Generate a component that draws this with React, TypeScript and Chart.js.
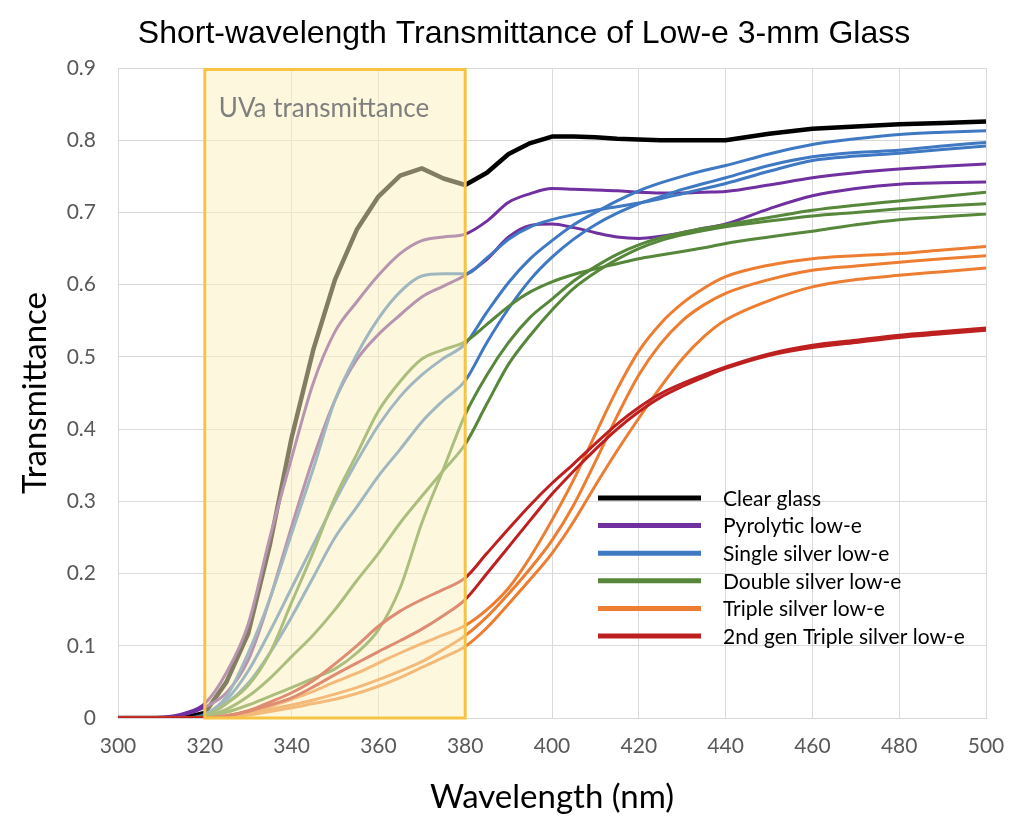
import React, { useEffect, useRef } from "react";
import { Chart, registerables } from "chart.js";

Chart.register(...registerables);

// ---------------- data ----------------
const wavelengths = [300, 305, 310, 315, 320, 325, 330, 335, 340, 345, 350, 355, 360, 365, 370, 375, 380, 385, 390, 395, 400, 405, 410, 415, 420, 425, 430, 435, 440, 450, 460, 470, 480, 490, 500];

const clearGlass = [0, 0, 0, 0, 0.007, 0.05, 0.117, 0.24, 0.388, 0.51, 0.607, 0.676, 0.722, 0.751, 0.761, 0.747, 0.738, 0.755, 0.781, 0.796, 0.805, 0.805, 0.804, 0.802, 0.801, 0.8, 0.8, 0.8, 0.8, 0.809, 0.816, 0.819, 0.822, 0.824, 0.826];

const pyrolyticA = [0, 0, 0.001, 0.006, 0.02, 0.063, 0.13, 0.25, 0.36, 0.464, 0.535, 0.576, 0.613, 0.643, 0.661, 0.666, 0.67, 0.688, 0.714, 0.726, 0.733, 0.732, 0.731, 0.73, 0.728, 0.727, 0.727, 0.728, 0.729, 0.738, 0.748, 0.755, 0.76, 0.764, 0.767];
const pyrolyticB = [0, 0, 0.001, 0.004, 0.015, 0.035, 0.08, 0.165, 0.265, 0.36, 0.44, 0.496, 0.531, 0.558, 0.583, 0.598, 0.613, 0.635, 0.666, 0.682, 0.684, 0.679, 0.672, 0.666, 0.664, 0.667, 0.672, 0.678, 0.684, 0.705, 0.723, 0.733, 0.739, 0.741, 0.742];

const singleA = [0, 0, 0, 0, 0.005, 0.03, 0.09, 0.165, 0.255, 0.345, 0.44, 0.503, 0.553, 0.59, 0.612, 0.615, 0.615, 0.637, 0.663, 0.68, 0.69, 0.697, 0.703, 0.708, 0.713, 0.719, 0.726, 0.733, 0.74, 0.757, 0.772, 0.778, 0.782, 0.787, 0.792];
const singleB = [0, 0, 0, 0, 0.003, 0.025, 0.065, 0.12, 0.18, 0.24, 0.3, 0.355, 0.405, 0.445, 0.475, 0.498, 0.518, 0.562, 0.603, 0.636, 0.661, 0.683, 0.7, 0.716, 0.73, 0.741, 0.75, 0.758, 0.765, 0.781, 0.794, 0.802, 0.808, 0.811, 0.813];
const singleC = [0, 0, 0, 0, 0.003, 0.02, 0.048, 0.09, 0.14, 0.195, 0.25, 0.292, 0.335, 0.372, 0.41, 0.44, 0.467, 0.52, 0.567, 0.607, 0.638, 0.663, 0.683, 0.699, 0.712, 0.722, 0.732, 0.74, 0.748, 0.765, 0.777, 0.783, 0.786, 0.792, 0.797];

const doubleA = [0, 0, 0, 0, 0.003, 0.02, 0.045, 0.09, 0.16, 0.23, 0.305, 0.365, 0.425, 0.466, 0.497, 0.51, 0.521, 0.545, 0.57, 0.59, 0.604, 0.614, 0.622, 0.629, 0.636, 0.641, 0.646, 0.651, 0.657, 0.666, 0.674, 0.683, 0.69, 0.694, 0.698];
const doubleB = [0, 0, 0, 0, 0.002, 0.012, 0.03, 0.055, 0.085, 0.115, 0.15, 0.19, 0.228, 0.27, 0.307, 0.343, 0.379, 0.435, 0.49, 0.53, 0.565, 0.595, 0.617, 0.635, 0.65, 0.661, 0.669, 0.675, 0.68, 0.688, 0.695, 0.7, 0.705, 0.709, 0.712];
const doubleC = [0, 0, 0, 0, 0.001, 0.008, 0.018, 0.03, 0.042, 0.055, 0.068, 0.09, 0.122, 0.18, 0.27, 0.345, 0.42, 0.475, 0.52, 0.555, 0.58, 0.605, 0.625, 0.642, 0.655, 0.665, 0.672, 0.678, 0.683, 0.693, 0.703, 0.71, 0.716, 0.722, 0.728];

const tripleA = [0, 0, 0, 0, 0, 0.002, 0.008, 0.016, 0.026, 0.037, 0.05, 0.062, 0.076, 0.09, 0.103, 0.115, 0.128, 0.15, 0.18, 0.223, 0.274, 0.33, 0.393, 0.455, 0.508, 0.546, 0.574, 0.595, 0.611, 0.627, 0.636, 0.64, 0.643, 0.648, 0.653];
const tripleB = [0, 0, 0, 0, 0, 0.001, 0.006, 0.012, 0.018, 0.025, 0.033, 0.042, 0.053, 0.065, 0.078, 0.095, 0.114, 0.14, 0.172, 0.207, 0.246, 0.295, 0.355, 0.418, 0.475, 0.518, 0.55, 0.572, 0.588, 0.607, 0.62, 0.626, 0.631, 0.636, 0.64];
const tripleC = [0, 0, 0, 0, 0, 0.001, 0.004, 0.009, 0.014, 0.02, 0.026, 0.034, 0.044, 0.056, 0.07, 0.084, 0.099, 0.125, 0.158, 0.192, 0.228, 0.272, 0.322, 0.37, 0.415, 0.458, 0.497, 0.528, 0.551, 0.578, 0.597, 0.607, 0.613, 0.618, 0.623];

const gen2A = [0, 0, 0, 0, 0, 0.003, 0.01, 0.022, 0.035, 0.052, 0.075, 0.1, 0.127, 0.148, 0.164, 0.178, 0.194, 0.228, 0.262, 0.295, 0.325, 0.352, 0.38, 0.407, 0.43, 0.449, 0.463, 0.475, 0.486, 0.504, 0.516, 0.523, 0.53, 0.535, 0.54];
const gen2B = [0, 0, 0, 0, 0, 0.003, 0.009, 0.018, 0.028, 0.043, 0.06, 0.076, 0.092, 0.107, 0.123, 0.142, 0.164, 0.2, 0.237, 0.274, 0.31, 0.342, 0.372, 0.4, 0.424, 0.444, 0.459, 0.472, 0.484, 0.502, 0.513, 0.52, 0.527, 0.532, 0.537];

const legendLabels = ["Clear glass", "Pyrolytic low-e", "Single silver low-e", "Double silver low-e", "Triple silver low-e", "2nd gen Triple silver low-e"];
const groupSeries = [
  [clearGlass],
  [pyrolyticA, pyrolyticB],
  [singleA, singleB, singleC],
  [doubleA, doubleB, doubleC],
  [tripleA, tripleB, tripleC],
  [gen2A, gen2B],
];
const groupColors = ["#000000", "#7030A0", "#3F78C3", "#56873A", "#ED7D31", "#BE2020"];

const xTicks = [300, 320, 340, 360, 380, 400, 420, 440, 460, 480, 500];
const yTickLabels = ["0", "0.1", "0.2", "0.3", "0.4", "0.5", "0.6", "0.7", "0.8", "0.9"];
const uvBand = [320, 380];
const uvLabel = "UVa transmittance";
const chartTitle = "Short-wavelength Transmittance of Low-e 3-mm Glass";
const xTitle = "Wavelength (nm)";
const yTitle = "Transmittance";

// ---------------- plugin ----------------
const decorPlugin = {
  id: "decor",
  afterDatasetsDraw(chart: any) {
    const { ctx, chartArea, scales } = chart;
    const xs = scales.x;
    const ys = scales.y;
    const x0 = xs.getPixelForValue(uvBand[0]);
    const x1 = xs.getPixelForValue(uvBand[1]);
    const yTop = ys.getPixelForValue(0.9);
    const yBot = ys.getPixelForValue(0);
    ctx.save();
    // translucent UVa band
    ctx.fillStyle = "rgba(251,241,190,0.52)";
    ctx.fillRect(x0, yTop, x1 - x0, yBot - yTop);
    ctx.strokeStyle = "#F6C343";
    ctx.lineWidth = 3;
    ctx.strokeRect(x0, yTop + 1.5, x1 - x0, yBot - yTop - 1.5);
    ctx.fillStyle = "#7F7F7F";
    ctx.font = "26px Lato";
    ctx.textAlign = "left";
    ctx.textBaseline = "alphabetic";
    ctx.fillText(uvLabel, x0 + 14, yTop + 49);

    // legend
    const lx0 = chartArea.left + 480;
    const lx1 = chartArea.left + 583;
    const tx = chartArea.left + 605;
    const ly0 = chartArea.top + 430;
    const step = 27.6;
    ctx.font = "21px Lato";
    ctx.textBaseline = "middle";
    legendLabels.forEach((lab, i) => {
      const yy = ly0 + i * step;
      ctx.strokeStyle = groupColors[i];
      ctx.lineWidth = 5;
      ctx.lineCap = "butt";
      ctx.beginPath();
      ctx.moveTo(lx0, yy);
      ctx.lineTo(lx1, yy);
      ctx.stroke();
      ctx.fillStyle = "#000000";
      ctx.fillText(lab, tx, yy + 1);
    });
    ctx.restore();
  },
  afterDraw(chart: any) {
    const { ctx } = chart;
    ctx.save();
    ctx.fillStyle = "#000000";
    ctx.font = '32px "Liberation Sans", Arial, sans-serif';
    ctx.textAlign = "center";
    ctx.textBaseline = "middle";
    ctx.fillText(chartTitle, 524, 34);
    ctx.restore();
  },
};

export default function App() {
  const canvasRef = useRef<HTMLCanvasElement | null>(null);

  useEffect(() => {
    const canvas = canvasRef.current;
    if (!canvas) return;
    const datasets: any[] = [];
    let count = 0;
    const total = groupSeries.reduce((s, g) => s + g.length, 0);
    groupSeries.forEach((group, gi) => {
      group.forEach((arr, li) => {
        datasets.push({
          label: legendLabels[gi] + " " + (li + 1),
          data: wavelengths.map((w, i) => ({ x: w, y: arr[i] })),
          borderColor: groupColors[gi],
          backgroundColor: groupColors[gi],
          borderWidth: gi === 0 ? 4.5 : 3,
          pointRadius: 0,
          fill: false,
          tension: 0,
          cubicInterpolationMode: gi === 0 ? "default" : "monotone",
          borderJoinStyle: "round",
          order: total - count,
        });
        count++;
      });
    });

    const chart = new Chart(canvas, {
      type: "line",
      data: { datasets },
      options: {
        responsive: false,
        animation: false,
        layout: { padding: { top: 68, right: 38, left: 0, bottom: 0 } },
        plugins: {
          legend: { display: false },
          title: { display: false },
          tooltip: { enabled: false },
        },
        font: { family: "Lato" },
        scales: {
          x: {
            type: "linear",
            min: 300,
            max: 500,
            afterBuildTicks: (scale: any) => {
              scale.ticks = xTicks.map((v) => ({ value: v }));
            },
            afterFit: (scale: any) => {
              scale.height = 110;
            },
            ticks: {
              color: "#595959",
              font: { family: "Lato", size: 21 },
              padding: 16,
              maxRotation: 0,
            },
            grid: { color: "#D9D9D9", lineWidth: 1, drawTicks: false },
            border: { color: "#D9D9D9", width: 1 },
            title: {
              display: true,
              text: xTitle,
              color: "#000000",
              font: { family: "Lato", size: 33 },
              padding: { top: 0, bottom: 11 },
            },
          },
          y: {
            type: "linear",
            min: 0,
            max: 0.9,
            ticks: {
              stepSize: 0.1,
              color: "#595959",
              font: { family: "Lato", size: 21 },
              padding: 22,
              callback: (_v: any, i: number) => yTickLabels[i],
            },
            afterFit: (scale: any) => {
              scale.width = 118;
            },
            grid: { color: "#D9D9D9", lineWidth: 1, drawTicks: false },
            border: { color: "#D9D9D9", width: 1 },
            title: {
              display: true,
              text: yTitle,
              color: "#000000",
              font: { family: "Lato", size: 33 },
              padding: { top: 16, bottom: 0 },
            },
          },
        },
      } as any,
      plugins: [decorPlugin],
    });
    return () => chart.destroy();
  }, []);

  return (
    <div style={{ position: "absolute", left: 0, top: 0, width: 1024, height: 828, background: "#ffffff" }}>
      <canvas ref={canvasRef} width={1024} height={828} style={{ display: "block" }} />
    </div>
  );
}
